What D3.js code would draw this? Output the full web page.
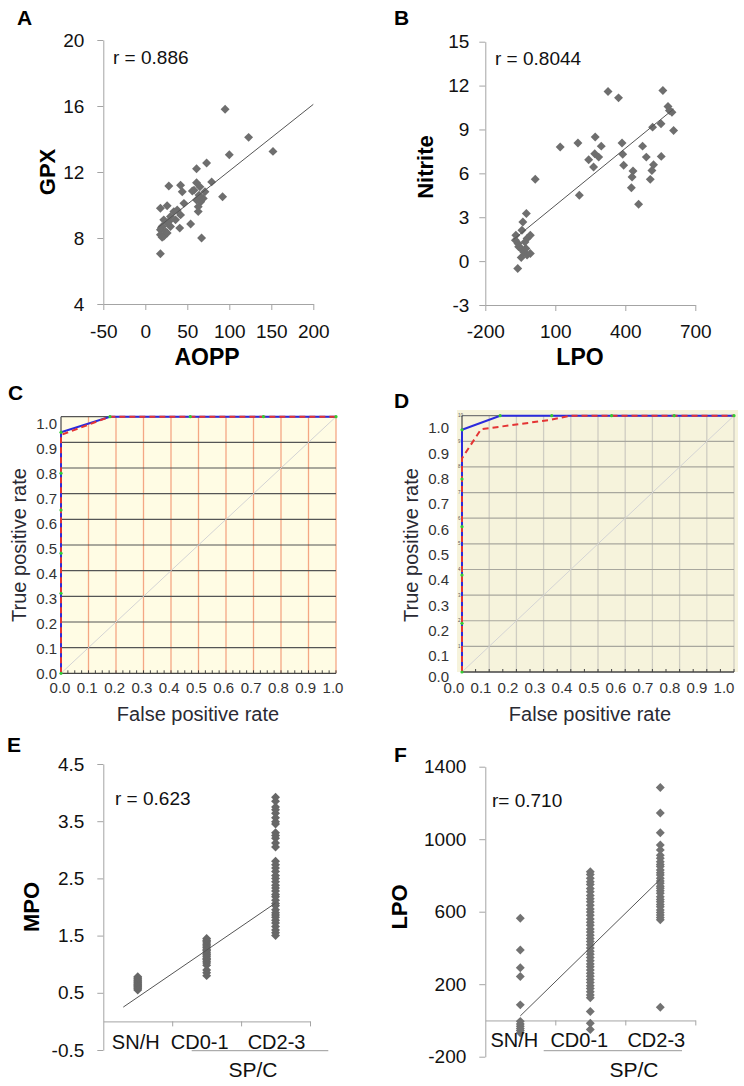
<!DOCTYPE html>
<html><head><meta charset="utf-8">
<script src="https://cdn.jsdelivr.net/npm/d3@7"></script>
<style>body{margin:0;background:#fff}svg{display:block;font-family:"Liberation Sans",Arial,sans-serif}</style>
</head><body><svg id="c" width="744" height="1086"></svg>
<script>
// ---------- DATA ----------
// Panel A: AOPP vs GPX
const aoppA = [95,123,152,100,73,61,79,28,42,44,56,61,65,71,92,46,61,66,69,63,63,18,26,34,42,30,22,36,26,20,30,54,41,18,24,18,22,26,67,18,38,58,64,20,28];
const gpxA  = [15.8,14.1,13.25,13.05,12.55,12.2,11.4,11.15,11.2,10.8,10.85,11.35,11.1,10.8,10.5,10.1,10.3,10.2,10.4,9.9,9.6,9.8,9.95,9.6,9.4,9.3,9.1,9.1,8.9,8.7,8.7,8.85,8.6,8.5,8.4,8.2,8.1,8.3,8.0,7.05,9.7,10.9,10.6,8.05,9.0];
const lineAx = [14,200], lineAy = [8.59,16.1];
const ticksAx = [-50,0,50,100,150,200], ticksAy = [4,8,12,16,20];
// Panel B: LPO vs Nitrite
const lpoB = [-61,-69,-71,-57,-39,-24,-43,-21,-7,-46,-36,-46,-26,-21,-7,-60,-30,14,121,197,203,243,264,271,269,286,297,326,371,386,389,393,433,429,426,457,474,490,507,514,521,517,553,554,561,583,589,600,607];
const nitB = [-0.5,1.77,1.43,0.98,2.68,3.25,2.11,1.55,1.77,0.86,0.64,0.25,0.86,0.41,0.52,1.2,1.3,5.6,7.8,8.07,4.5,6.93,6.43,8.48,7.34,7.11,7.86,11.6,11.16,8.07,7.3,6.55,6.16,5.75,5.02,3.89,7.86,7.11,5.59,6.2,6.59,9.16,9.39,7.16,11.66,10.57,10.3,10.18,8.93];
const lineBx = [-79,607], lineBy = [1.48,10.4];
const ticksBx = [-200,100,400,700], ticksBy = [-3,0,3,6,9,12,15];
// Panels C, D: ROC curves
const rocTicks = [0,0.1,0.2,0.3,0.4,0.5,0.6,0.7,0.8,0.9,1.0];
const rocTickLabels = ["0.0","0.1","0.2","0.3","0.4","0.5","0.6","0.7","0.8","0.9","1.0"];
const rocTiny = ["1","2","3","4","5","6","7","8","9","10"];
const cBlueFpr = [0,0,0.178,1], cBlueTpr = [0,0.939,1,1];
const cRedFpr  = [0,0,0.178,1], cRedTpr  = [0,0.929,1,1];
const cGreenFpr = [0,0,0,0,0,0,0.178,0.47,0.736,1], cGreenTpr = [0,0.312,0.468,0.636,0.78,0.939,1,1,1,1];
const dBlueFpr = [0,0,0.14,1], dBlueTpr = [0,0.945,1,1];
const dRedFpr  = [0,0,0.07,0.32,0.40,1], dRedTpr = [0,0.834,0.947,0.983,1,1];
const dGreenFpr = [0,0,0,0,0,0,0.14,0.33,0.55,0.78,1], dGreenTpr = [0,0.19,0.378,0.567,0.753,0.945,1,1,1,1,1];
// Panels E, F: categories
const cats = ["SN/H","CD0-1","CD2-3"];
const mpoSNH = [0.55,0.57,0.59,0.61,0.63,0.64,0.66,0.68,0.70,0.72,0.74,0.76,0.78];
const mpoCD01 = [0.80,0.85,0.90,0.98,1.02,1.05,1.08,1.10,1.13,1.16,1.18,1.21,1.24,1.26,1.29,1.32,1.34,1.37,1.40,1.42,1.45];
const mpoCD23 = [3.92,3.85,3.75,3.70,3.64,3.56,3.49,3.45,3.30,3.25,3.20,3.12,3.05,2.80,2.74,2.68,2.62,2.55,2.50,2.44,2.38,2.33,2.28,2.22,2.18,2.12,2.06,2.02,1.95,1.90,1.86,1.82,1.77,1.72,1.66,1.60,1.55,1.50];
const lineEx = [0.79,3.0], lineEy = [0.25,2.07];
const ticksEy = [-0.5,0.5,1.5,2.5,3.5,4.5];
const lpoSNH = [564,389,291,242,86,-5,-20,-32,-45,-55,-68];
const lpoCD01 = [820,805,785,765,750,728,710,690,672,655,636,615,598,580,560,542,525,505,488,470,452,435,418,400,382,365,348,330,312,296,278,260,244,226,210,192,176,158,140,125,49,-15,-50];
const lpoCD23 = [1285,1145,1036,968,941,912,895,876,860,849,830,815,803,785,770,757,740,729,715,702,683,668,655,640,628,610,596,582,568,555,73];
const lineFx = [1,3], lineFy = [25,779];
const ticksFy = [-200,200,600,1000,1400];

// ---------- DRAWING ----------
const svg = d3.select("#c");
const FONT = '"Liberation Sans", Arial, sans-serif';
const AX = "#a4a4a4", PT = "#6e6e6e";
const diamond = d3.symbol(d3.symbolSquare, 40)();

function styleAxis(g, size) {
  g.attr("font-family", FONT);
  g.select(".domain").attr("stroke", AX);
  g.selectAll(".tick line").attr("stroke", AX);
  g.selectAll(".tick text").attr("fill", "#111").attr("font-size", size);
}
function points(g, xs, ys, x, y, col) {
  g.append("g").selectAll("path").data(xs.map((v, i) => [v, ys[i]])).join("path")
    .attr("d", diamond).attr("fill", col || PT)
    .attr("transform", d => `translate(${x(d[0])},${y(d[1])}) rotate(45)`);
}
function regLine(g, xs, ys, x, y) {
  g.append("line").attr("x1", x(xs[0])).attr("y1", y(ys[0])).attr("x2", x(xs[1])).attr("y2", y(ys[1]))
    .attr("stroke", "#555").attr("stroke-width", 1);
}
function txt(g, s, x, y, size, opts = {}) {
  const t = g.append("text").attr("x", x).attr("y", y).attr("font-size", size)
    .attr("font-family", FONT).attr("fill", opts.fill || "#111").text(s);
  if (opts.bold) t.attr("font-weight", "bold");
  if (opts.anchor) t.attr("text-anchor", opts.anchor);
  return t;
}
function rotTxt(g, s, x, y, size, opts = {}) {
  return g.append("text").attr("transform", `translate(${x},${y}) rotate(-90)`)
    .attr("text-anchor", "middle").attr("font-size", size).attr("font-family", FONT)
    .attr("font-weight", opts.bold ? "bold" : "normal").attr("fill", opts.fill || "#111").text(s);
}
const fmt = d => String(d);

// Panel letters
[["A",17,25],["B",394,25],["C",8,400],["D",394,408],["E",7,752],["F",394,762]].forEach(([s,x,y]) =>
  txt(svg, s, x, y, 21, {bold: true, fill: "#000"}));

// ---- Panel A ----
{
  const x = d3.scaleLinear([-50,200],[103.3,313.3]);
  const y = d3.scaleLinear([4,20],[304,40]);
  const g = svg.append("g");
  g.append("g").attr("transform","translate(103.3,0)")
    .call(d3.axisLeft(y).tickValues(ticksAy).tickFormat(fmt).tickSize(6).tickSizeOuter(0).tickPadding(13)).call(styleAxis,19);
  g.append("g").attr("transform","translate(0,304)")
    .call(d3.axisBottom(x).tickValues(ticksAx).tickFormat(fmt).tickSize(6).tickSizeOuter(0).tickPadding(15)).call(styleAxis,19);
  points(g, aoppA, gpxA, x, y);
  regLine(g, lineAx, lineAy, x, y);
  txt(g, "r = 0.886", 113, 64, 19);
  txt(g, "AOPP", 207, 365, 23, {bold: true, anchor: "middle", fill: "#000"});
  rotTxt(g, "GPX", 55, 172, 22, {bold: true, fill: "#000"});
}
// ---- Panel B ----
{
  const x = d3.scaleLinear([-200,700],[485.3,695.3]);
  const y = d3.scaleLinear([-3,15],[305,41.7]);
  const g = svg.append("g");
  g.append("g").attr("transform","translate(485.3,0)")
    .call(d3.axisLeft(y).tickValues(ticksBy).tickFormat(fmt).tickSize(6).tickSizeOuter(0).tickPadding(10)).call(styleAxis,19);
  g.append("g").attr("transform","translate(0,305)")
    .call(d3.axisBottom(x).tickValues(ticksBx).tickFormat(fmt).tickSize(6).tickSizeOuter(0).tickPadding(14)).call(styleAxis,19);
  points(g, lpoB, nitB, x, y);
  regLine(g, lineBx, lineBy, x, y);
  txt(g, "r = 0.8044", 495, 65, 19);
  txt(g, "LPO", 580, 365, 23, {bold: true, anchor: "middle", fill: "#000"});
  rotTxt(g, "Nitrite", 433, 167, 22, {bold: true, fill: "#000"});
}

// ---- ROC panels ----
function rocPanel(o) {
  const x = d3.scaleLinear([0,1],[o.x0,o.x1]);
  const y = d3.scaleLinear([0,1],[o.y0,o.y1]);
  const yl = d3.scaleLinear([0,1],o.yLab);
  const xl = d3.scaleLinear([0,1],o.xLab);
  const g = svg.append("g");
  g.append("rect").attr("x",o.bg[0]).attr("y",o.bg[1]).attr("width",o.bg[2]-o.bg[0]).attr("height",o.bg[3]-o.bg[1]).attr("fill",o.bgCol);
  g.append("g").selectAll("line").data(rocTicks.slice(1)).join("line")
    .attr("x1",d=>x(d)).attr("x2",d=>x(d)).attr("y1",y(0)).attr("y2",y(1))
    .attr("stroke",o.vCol).attr("stroke-width",1.3);
  g.append("g").selectAll("line").data(rocTicks.slice(1,10)).join("line")
    .attr("x1",x(0)).attr("x2",x(1)).attr("y1",d=>y(d)).attr("y2",d=>y(d))
    .attr("stroke",o.hCol).attr("stroke-width",1.2);
  g.append("line").attr("x1",x(0)).attr("x2",x(1)).attr("y1",y(1)).attr("y2",y(1)).attr("stroke",o.topCol).attr("stroke-width",1.3);
  g.append("line").attr("x1",x(0)).attr("y1",y(0)).attr("x2",x(1)).attr("y2",y(1)).attr("stroke","#d4d4d4").attr("stroke-width",1);
  // axes
  g.append("line").attr("x1",x(0)).attr("x2",x(1)).attr("y1",y(0)).attr("y2",y(0)).attr("stroke","#444").attr("stroke-width",1.3);
  g.append("line").attr("x1",x(0)).attr("x2",x(0)).attr("y1",y(0)).attr("y2",y(1)).attr("stroke","#555").attr("stroke-width",1.3);
  g.append("g").selectAll("line").data(d3.range(0,1.0001,o.minor)).join("line")
    .attr("x1",d=>x(d)).attr("x2",d=>x(d)).attr("y1",y(0)).attr("y2",y(0)-3).attr("stroke","#444").attr("stroke-width",1);
  if (o.tiny) {
    g.append("g").selectAll("text").data(rocTicks.slice(1)).join("text")
      .attr("x",x(0)-4).attr("y",d=>y(d)+1.5).attr("font-size",4.5).attr("fill","#555").attr("font-family",FONT)
      .text((d,i)=>rocTiny[i]);
  }
  // curves
  const ln = d3.line().x(d=>x(d[0])).y(d=>y(d[1]));
  g.append("path").attr("d",ln(o.bx.map((v,i)=>[v,o.by[i]]))).attr("fill","none").attr("stroke","#2b2bdc").attr("stroke-width",2);
  g.append("path").attr("d",ln(o.rx.map((v,i)=>[v,o.ry[i]]))).attr("fill","none").attr("stroke","#e43434").attr("stroke-width",2).attr("stroke-dasharray","6,4");
  g.append("g").selectAll("circle").data(o.gx.map((v,i)=>[v,o.gy[i]])).join("circle")
    .attr("cx",d=>x(d[0])).attr("cy",d=>y(d[1])).attr("r",1.6).attr("fill","#33cc33");
  // labels
  g.append("g").selectAll("text").data(rocTicks).join("text")
    .attr("x",o.yLabX).attr("y",d=> d===0 && o.y0Lab ? o.y0Lab : yl(d)).attr("dy","0.36em").attr("text-anchor","end")
    .attr("font-size",15).attr("fill","#333").attr("font-family",FONT).text((d,i)=>rocTickLabels[i]);
  g.append("g").selectAll("text").data(rocTicks).join("text")
    .attr("x",d=>xl(d)).attr("y",693).attr("text-anchor","middle")
    .attr("font-size",15).attr("fill","#333").attr("font-family",FONT).text((d,i)=>rocTickLabels[i]);
  txt(g, "False positive rate", o.xTitle, 721, 20, {anchor:"middle", fill:"#2a2a33"});
  rotTxt(g, "True positive rate", o.yTitle, 545, 20, {fill:"#2a2a33"});
}
rocPanel({x0:61,x1:336,y0:673.3,y1:416.7,bg:[61,416.7,336,673.3],bgCol:"#fffce4",
  vCol:"#f4a784",hCol:"#555",topCol:"#555",minor:0.025,tiny:false,
  yLab:[673.3,423.3],xLab:[60,333],yLabX:57,xTitle:198,yTitle:26,
  bx:cBlueFpr,by:cBlueTpr,rx:cRedFpr,ry:cRedTpr,gx:cGreenFpr,gy:cGreenTpr});
rocPanel({x0:462,x1:734,y0:672,y1:415.7,bg:[457,410,738,672],bgCol:"#f6f3dc",
  vCol:"#cfcdc2",hCol:"#a8a79e",topCol:"#777",minor:0.05,tiny:true,
  yLab:[681.3,428],y0Lab:677,xLab:[454,724],yLabX:449,xTitle:590,yTitle:418,
  bx:dBlueFpr,by:dBlueTpr,rx:dRedFpr,ry:dRedTpr,gx:dGreenFpr,gy:dGreenTpr});

// ---- Category panels ----
function catPanel(o) {
  const x = d3.scaleLinear([0.5,3.5],[o.xr[0],o.xr[1]]);
  const y = d3.scaleLinear(o.yd,o.yr);
  const g = svg.append("g");
  g.append("g").attr("transform",`translate(${o.xr[0]},0)`)
    .call(d3.axisLeft(y).tickValues(o.yTicks).tickFormat(o.yFmt).tickSize(6).tickSizeOuter(0).tickPadding(13)).call(styleAxis,19);
  g.append("g").attr("transform",`translate(0,${y(0)})`)
    .call(d3.axisBottom(x).tickValues([1.5,2.5,3.5]).tickFormat("").tickSize(5).tickSizeOuter(0)).call(styleAxis,19);
  o.series.forEach((s,i) => points(g, s.map(()=>i+1), s, x, y, o.col));
  regLine(g, o.lx, o.ly, x, y);
  cats.forEach((c,i) => txt(g, c, x(i+1)+o.labOff[i], o.labY, 20, {anchor:"middle"}));
  g.append("line").attr("x1",o.br[0]).attr("x2",o.br[1]).attr("y1",1050.7).attr("y2",1050.7).attr("stroke","#999");
  txt(g, "SP/C", o.spX, 1077, 21, {anchor:"middle"});
  txt(g, o.r, o.rx, o.ry, 19);
  rotTxt(g, o.title, o.tx, 907, 22, {bold:true, fill:"#000"});
}
catPanel({xr:[103.3,310],yd:[-0.5,4.5],yr:[1050,764],yTicks:ticksEy,yFmt:d=>d.toFixed(1),
  series:[mpoSNH,mpoCD01,mpoCD23],col:"#676767",lx:lineEx,ly:lineEy,labOff:[-2,-7,1],labY:1049,
  br:[191.7,328.3],spX:253,r:"r = 0.623",rx:115,ry:805,title:"MPO",tx:39});
catPanel({xr:[485.3,695.3],yd:[-200,1400],yr:[1056.7,766.7],yTicks:ticksFy,yFmt:fmt,
  series:[lpoSNH,lpoCD01,lpoCD23],col:"#727272",lx:lineFx,ly:lineFy,labOff:[-6,-11,-4],labY:1047,
  br:[543.7,682],spX:634,r:"r= 0.710",rx:492,ry:807,title:"LPO",tx:407});
</script></body></html>
